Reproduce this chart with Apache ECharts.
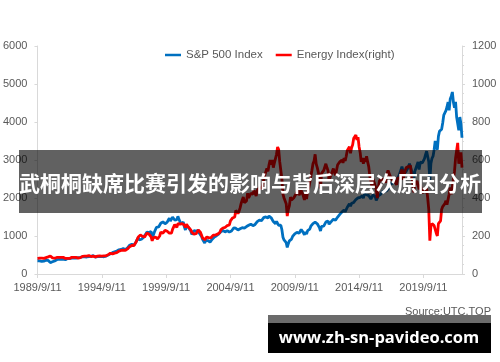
<!DOCTYPE html>
<html>
<head>
<meta charset="utf-8">
<script src="https://cdn.jsdelivr.net/npm/echarts@6/dist/echarts.min.js"></script>
<style>html,body{margin:0;padding:0;background:#fff}#c{width:500px;height:362px}</style>
</head>
<body>
<div id="c"></div>
<script>
// Monthly categories 1989/9 .. 2022/9
const months = [];
for (let y = 1989; y <= 2022; y++) {
  for (let m = 1; m <= 12; m++) {
    if ((y === 1989 && m < 9) || (y === 2022 && m > 9)) continue;
    months.push(y + '/' + m);
  }
}
const seriesNames = ['S&P 500 Index', 'Energy Index(right)'];
const leftTicks = [0, 1000, 2000, 3000, 4000, 5000, 6000];
const rightTicks = [0, 200, 400, 600, 800, 1000, 1200];

const sp500 = [
  349, 340, 346, 353,
  329, 332, 340, 331, 361, 358, 356, 323, 300, 304, 322, 330,
  344, 367, 375, 375, 390, 371, 388, 395, 388, 392, 375, 417,
  409, 413, 404, 415, 415, 408, 424, 414, 418, 419, 431, 436,
  439, 443, 452, 440, 450, 451, 448, 464, 459, 468, 462, 466,
  482, 467, 446, 451, 457, 444, 458, 475, 463, 472, 454, 459,
  470, 487, 501, 515, 533, 545, 562, 562, 584, 582, 605, 616,
  636, 640, 646, 654, 669, 671, 640, 652, 687, 705, 757, 741,
  786, 791, 757, 801, 848, 885, 954, 899, 947, 915, 955, 970,
  980, 1049, 1102, 1112, 1091, 1134, 1121, 957, 1017, 1099, 1164, 1229,
  1280, 1238, 1286, 1335, 1302, 1373, 1329, 1320, 1283, 1363, 1389, 1469,
  1394, 1366, 1499, 1452, 1421, 1455, 1431, 1518, 1437, 1429, 1315, 1320,
  1366, 1240, 1160, 1249, 1256, 1224, 1211, 1134, 1041, 1060, 1139, 1148,
  1130, 1107, 1147, 1076, 1067, 990, 912, 916, 815, 886, 936, 880,
  856, 841, 848, 917, 964, 975, 990, 1008, 996, 1051, 1058, 1112,
  1131, 1145, 1126, 1107, 1121, 1141, 1102, 1104, 1115, 1130, 1174, 1212,
  1181, 1204, 1181, 1157, 1192, 1191, 1234, 1220, 1229, 1207, 1249, 1248,
  1280, 1281, 1295, 1311, 1270, 1270, 1277, 1304, 1336, 1378, 1401, 1418,
  1438, 1407, 1421, 1482, 1531, 1503, 1455, 1474, 1527, 1549, 1481, 1468,
  1379, 1331, 1323, 1386, 1400, 1280, 1267, 1283, 1165, 969, 896, 903,
  826, 700, 798, 873, 919, 919, 987, 1021, 1057, 1036, 1096, 1115,
  1074, 1104, 1169, 1187, 1089, 1031, 1102, 1049, 1141, 1183, 1181, 1258,
  1286, 1327, 1326, 1364, 1345, 1321, 1292, 1219, 1131, 1253, 1247, 1258,
  1312, 1366, 1408, 1398, 1310, 1362, 1379, 1407, 1441, 1412, 1416, 1426,
  1498, 1515, 1569, 1598, 1631, 1606, 1686, 1633, 1682, 1757, 1806, 1848,
  1783, 1859, 1872, 1884, 1924, 1960, 1931, 2003, 1972, 2018, 2068, 2059,
  1995, 2105, 2068, 2086, 2107, 2063, 2104, 1972, 1920, 2079, 2080, 2044,
  1940, 1932, 2060, 2065, 2097, 2099, 2174, 2171, 2168, 2126, 2199, 2239,
  2279, 2364, 2363, 2384, 2412, 2423, 2470, 2472, 2519, 2575, 2648, 2674,
  2824, 2714, 2641, 2648, 2705, 2718, 2816, 2902, 2914, 2712, 2760, 2507,
  2704, 2784, 2834, 2946, 2752, 2942, 2980, 2926, 2977, 3038, 3141, 3231,
  3226, 2954, 2450, 2912, 3044, 3100, 3271, 3500, 3363, 3270, 3622, 3756,
  3714, 3811, 3973, 4181, 4204, 4298, 4395, 4523, 4308, 4605, 4680, 4790,
  4520, 4374, 4530, 4132, 4132, 3785, 4130, 3955, 3586
];

const energy = [
  82, 80, 83, 86,
  84, 85, 82, 80, 86, 85, 90, 92, 95, 88, 85, 84,
  83, 86, 87, 86, 88, 85, 87, 86, 88, 86, 82, 84,
  82, 83, 82, 86, 88, 86, 88, 86, 87, 85, 84, 83,
  86, 90, 93, 92, 94, 95, 94, 98, 97, 99, 92, 91,
  94, 92, 90, 93, 94, 93, 95, 96, 94, 97, 95, 94,
  96, 99, 102, 106, 109, 108, 106, 108, 110, 105, 112, 118,
  120, 122, 124, 126, 125, 127, 124, 128, 132, 138, 144, 143,
  150, 155, 150, 160, 168, 175, 195, 190, 205, 200, 198, 200,
  195, 205, 215, 220, 210, 205, 195, 175, 190, 200, 195, 190,
  185, 180, 200, 220, 225, 215, 225, 230, 220, 225, 220, 215,
  210, 215, 235, 245, 260, 250, 245, 265, 270, 262, 258, 265,
  255, 258, 245, 262, 265, 245, 240, 232, 220, 222, 210, 218,
  212, 220, 232, 225, 220, 205, 190, 192, 180, 190, 195, 195,
  190, 188, 192, 195, 205, 208, 205, 212, 210, 215, 218, 232,
  235, 242, 240, 245, 250, 255, 262, 258, 280, 285, 295, 290,
  300, 335, 330, 318, 330, 348, 372, 390, 405, 375, 380, 385,
  425, 400, 410, 425, 415, 420, 440, 435, 410, 440, 450, 455,
  445, 450, 465, 495, 520, 525, 555, 540, 575, 600, 575, 600,
  560, 585, 575, 630, 668, 655, 590, 580, 500, 420, 400, 390,
  370, 305, 340, 360, 405, 390, 400, 400, 410, 420, 430, 440,
  415, 425, 440, 450, 410, 390, 420, 395, 435, 450, 480, 515,
  545, 580, 595, 630, 580, 560, 570, 510, 450, 530, 540, 545,
  545, 580, 560, 545, 490, 510, 520, 540, 555, 535, 520, 525,
  575, 580, 590, 585, 600, 585, 610, 595, 620, 650, 660, 670,
  635, 665, 680, 715, 715, 732, 705, 720, 670, 640, 590, 610,
  580, 610, 590, 620, 590, 565, 515, 505, 460, 500, 495, 465,
  445, 400, 455, 490, 490, 505, 490, 495, 500, 480, 525, 545,
  530, 515, 510, 495, 485, 490, 495, 470, 505, 505, 505, 530,
  550, 495, 500, 545, 560, 560, 565, 555, 570, 505, 490, 430,
  470, 480, 490, 490, 445, 470, 460, 425, 440, 430, 430, 450,
  400, 340, 175, 250, 265, 270, 255, 250, 215, 200, 265, 275,
  280, 340, 355, 350, 370, 385, 365, 360, 420, 455, 420, 420,
  500, 540, 610, 600, 690, 580, 610, 640, 560
];

const titleText = '武桐桐缺席比赛引发的影响与背后深层次原因分析';
const sourceText = 'Source:UTC.TOP';
const siteText = 'www.zh-sn-pavideo.com';

const isLabelMonth = (idx, val) => {
  const p = String(val).split('/');
  return +p[1] === 9 && (+p[0]) % 5 === 4;
};

const axisGray = '#d9d9d9';
const labelGray = '#595959';
const font = '"Liberation Sans", Arial, sans-serif';

const chart = echarts.init(document.getElementById('c'), null, {renderer: 'canvas'});
chart.setOption({
  animation: false,
  backgroundColor: '#fff',
  grid: {left: 36, right: 38, top: 46, bottom: 88, containLabel: false},
  legend: {
    data: seriesNames,
    left: 160, top: 44,
    icon: 'rect', itemWidth: 16, itemHeight: 2.5, itemGap: 13,
    textStyle: {color: labelGray, fontSize: 11.5, fontFamily: font}
  },
  xAxis: {
    type: 'category', data: months, boundaryGap: false,
    axisLine: {lineStyle: {color: axisGray, width: 1}},
    axisTick: {interval: isLabelMonth, length: 4, lineStyle: {color: axisGray}},
    axisLabel: {
      interval: isLabelMonth, color: labelGray, fontSize: 11, fontFamily: font, margin: 8,
      formatter: v => v.split('/')[0] + '/9/11'
    },
    splitLine: {show: false}
  },
  yAxis: [
    {
      type: 'value', min: leftTicks[0], max: leftTicks[leftTicks.length - 1], interval: 1000,
      axisLine: {show: true, lineStyle: {color: axisGray}},
      axisTick: {show: true, length: 3, lineStyle: {color: axisGray}},
      axisLabel: {color: labelGray, fontSize: 11, fontFamily: font, margin: 10,
                  formatter: v => String(v)},
      splitLine: {show: false}
    },
    {
      type: 'value', min: rightTicks[0], max: rightTicks[rightTicks.length - 1], interval: 200,
      position: 'right',
      axisLine: {show: true, lineStyle: {color: axisGray}},
      axisTick: {show: true, length: 3, lineStyle: {color: axisGray}},
      minorTick: {show: true, splitNumber: 4, length: 2, lineStyle: {color: axisGray}},
      axisLabel: {color: labelGray, fontSize: 11, fontFamily: font, margin: 10,
                  formatter: v => String(v)},
      splitLine: {show: false}
    }
  ],
  series: [
    {
      name: seriesNames[0], type: 'line', data: sp500, yAxisIndex: 0,
      symbol: 'none', lineStyle: {color: '#0070C0', width: 2.8}, itemStyle: {color: '#0070C0'}
    },
    {
      name: seriesNames[1], type: 'line', data: energy, yAxisIndex: 1,
      symbol: 'none', lineStyle: {color: '#FF0000', width: 2.8}, itemStyle: {color: '#FF0000'}
    }
  ],
  graphic: [
    {type: 'rect', z: 100, shape: {x: 19, y: 150, width: 463, height: 63},
     style: {fill: 'rgba(0,0,0,0.62)'}},
    {type: 'text', z: 101, x: 250, y: 183,
     style: {text: titleText, fill: '#fff', align: 'center', verticalAlign: 'middle',
             font: 'bold 21px "Noto Sans CJK SC", sans-serif'}},
    {type: 'text', z: 100, x: 491, y: 312,
     style: {text: sourceText, fill: labelGray, align: 'right', verticalAlign: 'middle',
             font: '11px ' + font}},
    {type: 'rect', z: 101, shape: {x: 268, y: 315, width: 223, height: 8},
     style: {fill: 'rgba(0,0,0,0.58)'}},
    {type: 'rect', z: 101, shape: {x: 268, y: 323, width: 223, height: 30},
     style: {fill: '#000'}},
    {type: 'text', z: 102, x: 379, y: 338,
     style: {text: siteText, fill: '#fff', align: 'center', verticalAlign: 'middle',
             font: 'bold 16.5px "Open Sans", sans-serif'}}
  ]
});
</script>
</body>
</html>
